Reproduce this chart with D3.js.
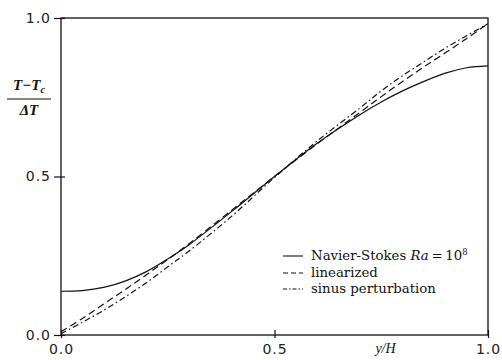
<!DOCTYPE html>
<html>
<head>
<meta charset="utf-8">
<script src="https://cdn.jsdelivr.net/npm/d3@7"></script>
<style>
  html, body { margin: 0; padding: 0; background: #fff; }
  svg { display: block; }
</style>
</head>
<body>
<script>
// Dimensionless height y/H
const yH = [0, 0.05, 0.1, 0.15, 0.2, 0.25, 0.3, 0.4, 0.5, 0.6, 0.7, 0.75, 0.8, 0.85, 0.9, 0.95, 1.0];
// Temperature profiles (T - Tc) / ΔT
const navierStokes = [0.138, 0.140, 0.150, 0.170, 0.200, 0.240, 0.285, 0.390, 0.500, 0.605, 0.695, 0.735, 0.770, 0.800, 0.826, 0.843, 0.849];
const linearized   = [0.010, 0.052, 0.098, 0.143, 0.190, 0.238, 0.288, 0.394, 0.500, 0.603, 0.702, 0.752, 0.800, 0.846, 0.890, 0.935, 0.982];
const sinusPert    = [0.004, 0.040, 0.078, 0.120, 0.165, 0.215, 0.265, 0.375, 0.497, 0.612, 0.716, 0.770, 0.818, 0.862, 0.905, 0.944, 0.982];
const xTicks = [0, 0.5, 1.0];
const yTicks = [0, 0.5, 1.0];
const seriesNames = ["Navier-Stokes", "linearized", "sinus perturbation"];

const W = 502, H = 360;
const margin = { left: 61, right: 14, top: 18, bottom: 25 };
const SERIF = '"Liberation Serif"';
const WIDE_SERIF = '"DejaVu Serif"';
const SANS = '"DejaVu Sans"';

const svg = d3.select("body").append("svg").attr("width", W).attr("height", H);

const x = d3.scaleLinear().domain([0, 1]).range([margin.left, W - margin.right]);
const y = d3.scaleLinear().domain([0, 1]).range([H - margin.bottom, margin.top]);

const ink = "#111";

// Frame
svg.append("rect")
  .attr("x", x(0)).attr("y", y(1))
  .attr("width", x(1) - x(0)).attr("height", y(0) - y(1))
  .attr("fill", "none").attr("stroke", ink).attr("stroke-width", 1.3);

// Y axis ticks and labels
const yAxis = d3.axisLeft(y).tickValues(yTicks).tickFormat(d3.format(".1f"))
  .tickSizeInner(-5).tickSizeOuter(0).tickPadding(10);
const gy = svg.append("g").attr("transform", `translate(${x(0)},0)`).call(yAxis);
gy.select(".domain").remove();
gy.selectAll(".tick line").attr("stroke", ink).attr("stroke-width", 1.2)
  .attr("x1", -7).attr("x2", 4);
gy.selectAll(".tick text").style("font-family", SANS)
  .attr("font-size", 14).attr("letter-spacing", "1px").attr("fill", "#222");

// X axis ticks and labels
const xAxis = d3.axisBottom(x).tickValues(xTicks).tickFormat(d3.format(".1f"))
  .tickSizeInner(4).tickSizeOuter(0).tickPadding(5);
const gx = svg.append("g").attr("transform", `translate(0,${y(0)})`).call(xAxis);
gx.select(".domain").remove();
gx.selectAll(".tick line").attr("stroke", ink).attr("stroke-width", 1.2)
  .attr("y1", -5).attr("y2", 3);
gx.selectAll(".tick text").style("font-family", SANS)
  .attr("font-size", 14).attr("letter-spacing", "1px").attr("fill", "#222");

// x axis title
svg.append("text").style("font-family", SERIF).attr("x", x(0.76)).attr("y", y(0) + 18)
  .attr("text-anchor", "middle").attr("font-style", "italic")
  .attr("font-size", 14).attr("fill", ink).text("y/H");

// y axis title as a fraction
const yt = svg.append("g").style("font-family", SERIF)
  .attr("font-weight", "bold").attr("font-style", "italic").attr("fill", ink);
const num = yt.append("text").attr("x", 29).attr("y", 90).attr("text-anchor", "middle").attr("font-size", 15);
num.append("tspan").text("T\u2212T");
num.append("tspan").attr("font-size", 10).attr("dy", 3).text("c");
yt.append("line").attr("x1", 7).attr("x2", 51).attr("y1", 99).attr("y2", 99)
  .attr("stroke", ink).attr("stroke-width", 1.2);
yt.append("text").attr("x", 29).attr("y", 115).attr("text-anchor", "middle").attr("font-size", 15)
  .text("\u0394T");

// Curves
const series = [
  { name: seriesNames[0], values: navierStokes, dash: null, key: null },
  { name: seriesNames[1], values: linearized, dash: "7,4", key: "5,3" },
  { name: seriesNames[2], values: sinusPert, dash: "6,3,1.5,3", key: "4,2,1.5,2" }
];

const line = d3.line().x(d => x(d[0])).y(d => y(d[1])).curve(d3.curveCatmullRom);

series.forEach(s => {
  svg.append("path")
    .datum(yH.map((v, i) => [v, s.values[i]]))
    .attr("d", line)
    .attr("fill", "none").attr("stroke", ink).attr("stroke-width", 1.2)
    .attr("stroke-dasharray", s.dash);
});

// Legend
const lg = svg.append("g").style("font-family", WIDE_SERIF).attr("font-size", 13.3).attr("fill", ink);
const rows = [256, 273, 289];
series.forEach((s, i) => {
  lg.append("line").attr("x1", 283).attr("x2", 303).attr("y1", rows[i]).attr("y2", rows[i])
    .attr("stroke", ink).attr("stroke-width", 1.1).attr("stroke-dasharray", s.key);
  const t = lg.append("text").attr("x", 311).attr("y", rows[i] + 4);
  t.append("tspan").text(s.name);
  if (i === 0) {
    t.append("tspan").text(" ");
    t.append("tspan").attr("font-style", "italic").text("Ra");
    t.append("tspan").text("\u2009=\u200910");
    t.append("tspan").attr("font-size", 8.5).attr("dy", -5).text("8");
  }
});
</script>
</body>
</html>
